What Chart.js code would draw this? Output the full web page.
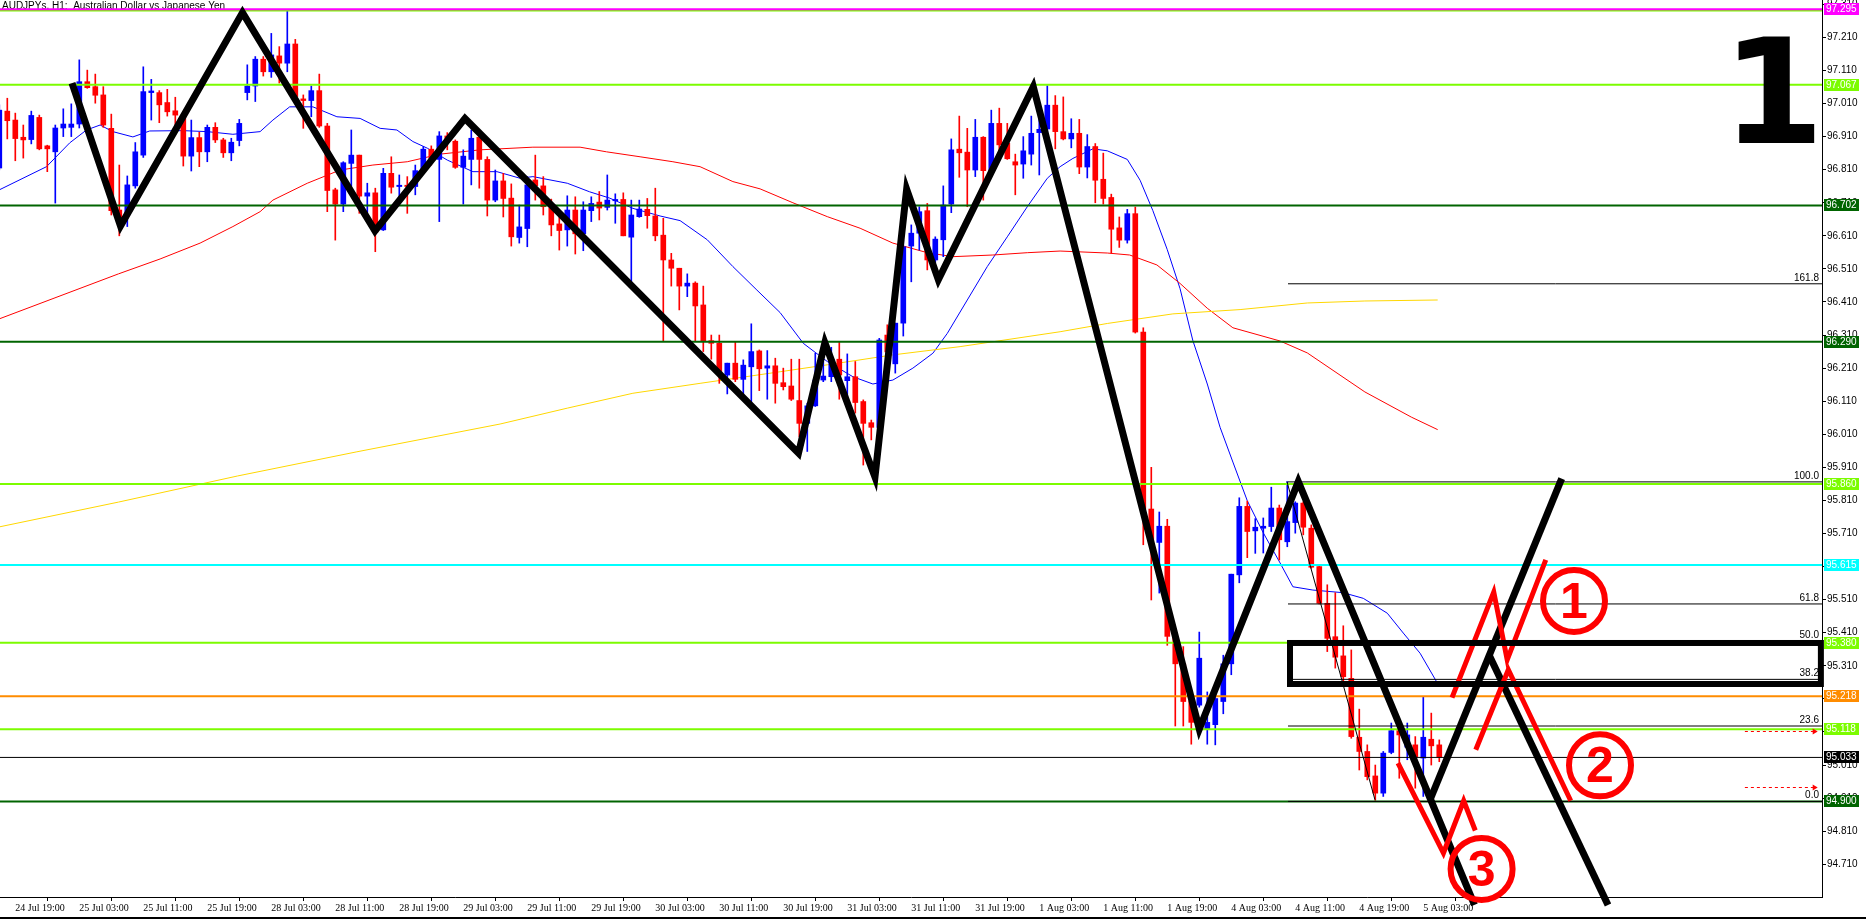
<!DOCTYPE html>
<html>
<head>
<meta charset="utf-8">
<script src="https://cdn.jsdelivr.net/npm/chart.js@4.4.1/dist/chart.umd.min.js"></script>
<style>
html, body { margin: 0; padding: 0; background: #fff; overflow: hidden; }
#wrap { position: relative; width: 1866px; height: 919px; }
</style>
</head>
<body>
<div id="wrap"><canvas id="chart" width="1866" height="919"></canvas></div>
<script>
// AUDJPYs H1 candles, 24 Jul 17:00 .. 5 Aug 05:00 (index = bar number)
const opens = [
  96.815, 96.987, 96.960, 96.908, 96.901, 96.968, 96.882, 96.864, 96.936, 96.938,
  96.948, 97.076, 97.061, 97.036, 96.935, 96.688, 96.673, 96.761, 96.854, 97.043,
  97.043, 97.013, 96.988, 96.975, 96.851, 96.907, 96.864, 96.938, 96.900, 96.861,
  96.898, 97.043, 97.063, 97.144, 97.106, 97.154, 97.132, 97.190, 97.024, 97.019,
  97.049, 96.942, 96.749, 96.706, 96.829, 96.854, 96.730, 96.740, 96.628, 96.799,
  96.759, 96.763, 96.759, 96.807, 96.872, 96.841, 96.912, 96.896, 96.817, 96.841,
  96.908, 96.841, 96.718, 96.776, 96.724, 96.605, 96.632, 96.779, 96.761, 96.700,
  96.646, 96.628, 96.688, 96.616, 96.686, 96.712, 96.696, 96.716, 96.720, 96.606,
  96.668, 96.690, 96.670, 96.612, 96.537, 96.512, 96.458, 96.467, 96.401, 96.293,
  96.285, 96.189, 96.225, 96.176, 96.214, 96.262, 96.210, 96.217, 96.166, 96.156,
  96.112, 96.043, 96.096, 96.174, 96.184, 96.237, 96.172, 96.184, 96.109, 96.045,
  96.031, 96.310, 96.223, 96.346, 96.579, 96.618, 96.686, 96.537, 96.598, 96.706,
  96.872, 96.863, 96.809, 96.908, 96.807, 96.950, 96.890, 96.834, 96.827, 96.857,
  96.922, 96.933, 97.005, 96.925, 96.903, 96.920, 96.818, 96.880, 96.781, 96.726,
  96.634, 96.597, 96.677, 96.319, 95.784, 95.683, 95.732, 95.399, 95.316, 95.204,
  95.191, 95.119, 95.132, 95.202, 95.316, 95.585, 95.792, 95.718, 95.726, 95.731,
  95.787, 95.685, 95.743, 95.802, 95.726, 95.610, 95.499, 95.398, 95.340, 95.272,
  95.094, 95.051, 94.977, 94.925, 95.048, 95.114, 95.064, 95.071, 95.031, 95.088,
  95.071
];
const highs = [
  97.006, 97.026, 96.981, 96.945, 96.987, 96.975, 96.884, 96.945, 96.994, 97.009,
  97.142, 97.111, 97.099, 97.061, 96.978, 96.824, 96.791, 96.892, 97.121, 97.083,
  97.049, 97.053, 97.029, 96.975, 96.960, 96.923, 96.945, 96.952, 96.905, 96.905,
  96.962, 97.127, 97.152, 97.152, 97.222, 97.182, 97.291, 97.204, 97.036, 97.063,
  97.099, 96.950, 96.754, 96.834, 96.930, 96.854, 96.769, 96.754, 96.814, 96.849,
  96.794, 96.789, 96.824, 96.880, 96.882, 96.925, 96.922, 96.900, 96.870, 96.930,
  96.915, 96.849, 96.809, 96.799, 96.767, 96.703, 96.789, 96.854, 96.789, 96.721,
  96.666, 96.731, 96.728, 96.713, 96.728, 96.744, 96.794, 96.737, 96.740, 96.718,
  96.718, 96.723, 96.754, 96.663, 96.557, 96.512, 96.495, 96.471, 96.458, 96.310,
  96.310, 96.225, 96.290, 96.235, 96.344, 96.265, 96.263, 96.240, 96.210, 96.237,
  96.237, 96.104, 96.255, 96.255, 96.273, 96.290, 96.253, 96.230, 96.114, 96.053,
  96.300, 96.341, 96.346, 96.597, 96.643, 96.698, 96.708, 96.607, 96.761, 96.903,
  96.972, 96.935, 96.962, 96.910, 96.990, 96.996, 96.950, 96.857, 96.910, 96.972,
  97.011, 97.064, 97.034, 97.030, 96.964, 96.962, 96.916, 96.889, 96.860, 96.736,
  96.667, 96.690, 96.697, 96.332, 95.910, 95.775, 95.753, 95.399, 95.368, 95.218,
  95.412, 95.231, 95.231, 95.342, 95.587, 95.818, 95.808, 95.755, 95.757, 95.850,
  95.796, 95.867, 95.806, 95.806, 95.736, 95.615, 95.555, 95.531, 95.431, 95.358,
  95.179, 95.071, 95.010, 95.051, 95.137, 95.137, 95.137, 95.096, 95.217, 95.167,
  95.086
];
const lows = [
  96.809, 96.903, 96.837, 96.845, 96.888, 96.870, 96.804, 96.709, 96.910, 96.910,
  96.936, 97.056, 97.011, 96.938, 96.673, 96.610, 96.638, 96.754, 96.847, 96.960,
  96.952, 96.972, 96.940, 96.821, 96.806, 96.819, 96.834, 96.892, 96.847, 96.837,
  96.882, 97.021, 97.016, 97.093, 97.089, 97.072, 97.106, 97.021, 96.935, 96.970,
  96.938, 96.683, 96.597, 96.683, 96.759, 96.678, 96.678, 96.562, 96.626, 96.739,
  96.713, 96.678, 96.734, 96.804, 96.824, 96.653, 96.870, 96.814, 96.706, 96.764,
  96.754, 96.670, 96.713, 96.667, 96.579, 96.588, 96.577, 96.718, 96.673, 96.610,
  96.567, 96.579, 96.555, 96.565, 96.653, 96.658, 96.688, 96.648, 96.610, 96.471,
  96.666, 96.633, 96.595, 96.293, 96.458, 96.386, 96.426, 96.293, 96.260, 96.237,
  96.164, 96.132, 96.169, 96.112, 96.106, 96.142, 96.116, 96.104, 96.144, 96.112,
  96.003, 95.958, 96.094, 96.169, 96.169, 96.116, 96.116, 96.074, 95.917, 95.993,
  96.028, 96.235, 96.195, 96.307, 96.471, 96.567, 96.507, 96.529, 96.547, 96.680,
  96.787, 96.698, 96.789, 96.718, 96.797, 96.860, 96.841, 96.734, 96.784, 96.824,
  96.794, 96.922, 96.873, 96.900, 96.876, 96.798, 96.785, 96.710, 96.706, 96.558,
  96.575, 96.588, 96.316, 95.676, 95.509, 95.530, 95.372, 95.128, 95.128, 95.073,
  95.185, 95.073, 95.071, 95.165, 95.283, 95.561, 95.637, 95.650, 95.651, 95.716,
  95.630, 95.670, 95.711, 95.706, 95.605, 95.497, 95.353, 95.303, 95.257, 95.091,
  94.995, 94.965, 94.903, 94.915, 95.044, 94.970, 95.026, 94.940, 94.915, 95.010,
  95.020
];
const closes = [
  96.990, 96.958, 96.904, 96.900, 96.974, 96.873, 96.873, 96.936, 96.948, 96.948,
  97.076, 97.058, 97.035, 96.945, 96.686, 96.658, 96.764, 96.864, 97.046, 97.048,
  97.006, 96.985, 96.975, 96.851, 96.907, 96.864, 96.938, 96.900, 96.861, 96.893,
  96.950, 97.063, 97.144, 97.106, 97.157, 97.132, 97.190, 97.031, 97.019, 97.049,
  96.942, 96.747, 96.706, 96.831, 96.854, 96.730, 96.740, 96.620, 96.799, 96.757,
  96.763, 96.759, 96.807, 96.872, 96.844, 96.912, 96.900, 96.817, 96.851, 96.905,
  96.841, 96.718, 96.776, 96.723, 96.607, 96.637, 96.764, 96.761, 96.698, 96.643,
  96.626, 96.688, 96.616, 96.688, 96.708, 96.694, 96.718, 96.720, 96.610, 96.673,
  96.691, 96.671, 96.610, 96.537, 96.512, 96.458, 96.467, 96.398, 96.293, 96.285,
  96.196, 96.225, 96.176, 96.219, 96.260, 96.208, 96.217, 96.164, 96.154, 96.116,
  96.043, 96.096, 96.174, 96.186, 96.230, 96.189, 96.184, 96.106, 96.043, 96.031,
  96.295, 96.259, 96.346, 96.577, 96.618, 96.683, 96.537, 96.600, 96.703, 96.870,
  96.861, 96.809, 96.908, 96.807, 96.950, 96.885, 96.843, 96.824, 96.867, 96.920,
  96.932, 97.005, 96.925, 96.903, 96.920, 96.818, 96.880, 96.778, 96.723, 96.630,
  96.597, 96.677, 96.319, 95.784, 95.683, 95.732, 95.399, 95.316, 95.202, 95.139,
  95.333, 95.139, 95.211, 95.316, 95.587, 95.792, 95.716, 95.729, 95.732, 95.787,
  95.691, 95.746, 95.802, 95.729, 95.608, 95.499, 95.393, 95.336, 95.277, 95.096,
  95.051, 94.975, 94.925, 95.046, 95.114, 95.101, 95.101, 95.035, 95.094, 95.068,
  95.034
];

// moving averages: [bar index, price]
const maFast = [
  [0, 96.749], [5.9, 96.819], [8.8, 96.891], [10.9, 96.930], [12.6, 96.945], [14.2, 96.925],
  [16.7, 96.909], [18.8, 96.927], [23, 96.928], [26, 96.925], [29.2, 96.917], [32.6, 96.925],
  [34.2, 96.960], [36.3, 97.000], [39.2, 97.000], [42.2, 96.970], [45.1, 96.965], [47.6, 96.935],
  [49.7, 96.930], [51.7, 96.895], [53.5, 96.875], [56, 96.839], [59.2, 96.804], [62.2, 96.804],
  [65.1, 96.784], [66.7, 96.789], [71, 96.769], [73.8, 96.743], [76.3, 96.724], [79.2, 96.693],
  [82.6, 96.670], [85.1, 96.656], [88.5, 96.598], [91.7, 96.517], [94.7, 96.446], [97.6, 96.378],
  [100.5, 96.285], [103.5, 96.230], [106.7, 96.184], [109.2, 96.162], [111.7, 96.174], [114.2, 96.210],
  [116.7, 96.255], [118.5, 96.315], [121, 96.416], [123.5, 96.517], [126, 96.607], [128.5, 96.698],
  [131, 96.784], [132.6, 96.819], [134.2, 96.844], [136.7, 96.873], [138.5, 96.867], [141, 96.841],
  [142.6, 96.778], [144.2, 96.686], [146, 96.568], [147.6, 96.450], [149.2, 96.293], [151, 96.162],
  [152.6, 96.031], [154.2, 95.926], [156, 95.809], [158, 95.712], [160.1, 95.621], [161.7, 95.549],
  [164.2, 95.539], [168, 95.531], [170.5, 95.514], [173.5, 95.469], [175.5, 95.409], [177.6, 95.348],
  [179.9, 95.252]
];
const maMid = [
  [0, 96.359], [14.9, 96.495], [20.1, 96.540], [25.1, 96.588], [29.2, 96.638], [32.6, 96.683],
  [34.2, 96.718], [38.5, 96.769], [42.6, 96.809], [46.7, 96.824], [51, 96.834], [55.1, 96.857],
  [60.1, 96.870], [66.7, 96.878], [72.6, 96.878], [75.9, 96.864], [80.1, 96.849], [84.2, 96.834],
  [87.6, 96.819], [91.7, 96.774], [95.1, 96.752], [99.2, 96.710], [103.5, 96.668], [107.6, 96.633],
  [111.7, 96.588], [116, 96.559], [119.2, 96.547], [124.2, 96.552], [128.5, 96.559], [132.6, 96.564],
  [138.5, 96.558], [141.3, 96.552], [144.7, 96.522], [147.6, 96.466], [151, 96.391], [154.2, 96.332],
  [160.1, 96.292], [163.5, 96.256], [170.7, 96.138], [176.5, 96.062], [179.8, 96.024]
];
const maSlow = [
  [0, 95.730], [14.9, 95.805], [29.8, 95.884], [44.7, 95.957], [62.6, 96.041], [71, 96.089],
  [79.2, 96.134], [87.6, 96.164], [97.6, 96.199], [103.5, 96.220], [111.7, 96.250], [120.1, 96.275],
  [132.6, 96.320], [138.5, 96.345], [146.7, 96.374], [155.1, 96.387], [163.5, 96.407], [170.7, 96.413],
  [179.8, 96.416]
];

// hand-drawn wave lines: [bar index, price]
const waveMain = [
  [9.09, 97.072], [15.15, 96.640], [30.4, 97.285], [46.96, 96.625], [58.21, 96.965],
  [99.9, 95.953], [103.2, 96.287], [109.46, 95.881], [113.42, 96.751], [117.38, 96.477],
  [129.25, 97.061], [150.0, 95.119], [162.375, 95.867], [184.4, 94.587]
];
const waveUp = [[178.9, 94.908], [195.3, 95.876]];
const waveDown = [[186.3, 95.339], [201.09, 94.587]];
const redPath1 = [[181.59, 95.214], [186.81, 95.533], [188.49, 95.328], [193.31, 95.630]];
const redPath2 = [[184.56, 95.056], [188.63, 95.298], [196.43, 94.902]];
const redPath3 = [[174.84, 95.016], [180.52, 94.744], [183.05, 94.902], [184.5, 94.812]];
const circleMarks = [['1', 196.84, 95.506], ['2', 200.09, 95.009], ['3', 185.29, 94.696]];
const zoneBox = [[161.34, 95.379], [227.7, 95.255]];

// horizontal levels
const levelPrices = [97.295, 97.291, 97.067, 96.702, 96.290, 95.860, 95.615, 95.380, 95.218, 95.118, 95.033, 94.900];
const levelColors = ['#ff00ff', '#7cfc00', '#7cfc00', '#006400', '#006400', '#7cfc00', '#00ffff', '#7cfc00', '#ff8c00', '#7cfc00', '#000000', '#006400'];
const levelWidths = [2, 2, 2, 2, 2, 2, 2, 2, 2, 2, 1, 2];
const levelTags = ['97.295', '', '97.067', '96.702', '96.290', '95.860', '95.615', '95.380', '95.218', '95.118', '95.033', '94.900'];

// fibonacci retracement
const fibStart = 161.09;
const fibNames = ['0.0', '23.6', '38.2', '50.0', '61.8', '100.0', '161.8'];
const fibPrices = [94.900, 95.128, 95.269, 95.383, 95.497, 95.866, 96.465];
const fibBase = [[160.96, 95.867], [171.96, 94.905]];
const arrowPrices = [95.114, 94.944];
const arrowSpan = [218.2, 227.3];

// axes
const yTicks = [94.71, 94.81, 94.91, 95.01, 95.11, 95.21, 95.31, 95.41, 95.51, 95.61, 95.71, 95.81, 95.91,
  96.01, 96.11, 96.21, 96.31, 96.41, 96.51, 96.61, 96.71, 96.81, 96.91, 97.01, 97.11, 97.21, 97.31];
const xTickBars = [2, 10, 18, 26, 34, 42, 50, 58, 66, 74, 82, 90, 98, 106, 114, 122, 130, 138, 146, 154, 162, 170, 178];
const xTickLabels = ['24 Jul 19:00', '25 Jul 03:00', '25 Jul 11:00', '25 Jul 19:00', '28 Jul 03:00', '28 Jul 11:00',
  '28 Jul 19:00', '29 Jul 03:00', '29 Jul 11:00', '29 Jul 19:00', '30 Jul 03:00', '30 Jul 11:00', '30 Jul 19:00',
  '31 Jul 03:00', '31 Jul 11:00', '31 Jul 19:00', '1 Aug 03:00', '1 Aug 11:00', '1 Aug 19:00', '4 Aug 03:00',
  '4 Aug 11:00', '4 Aug 19:00', '5 Aug 03:00'];

const X_MIN = 0.0875, X_MAX = 227.84, Y_MIN = 94.611, Y_MAX = 97.323;

const pts = arr => arr.map(p => ({ x: p[0], y: p[1] }));
const candleColors = opens.map((o, i) => closes[i] >= o ? '#0000ff' : '#ff0000');

function lineSet(data, color, width, order, extra) {
  return Object.assign({
    type: 'line', data: data, borderColor: color, borderWidth: width,
    pointRadius: 0, fill: false, tension: 0, order: order
  }, extra || {});
}

const datasets = [];
datasets.push(lineSet(pts(maSlow), '#ffd700', 1, 60));
datasets.push(lineSet(pts(maMid), '#ff0000', 1, 60));
datasets.push(lineSet(pts(maFast), '#0000ff', 1, 60));
datasets.push({
  type: 'bar', data: opens.map((o, i) => ({ x: i, y: [lows[i], highs[i]] })),
  backgroundColor: candleColors, barThickness: 1, grouped: false, minBarLength: 1, order: 51
});
datasets.push({
  type: 'bar', data: opens.map((o, i) => ({ x: i, y: [o, closes[i]] })),
  backgroundColor: candleColors, barThickness: 5, grouped: false, minBarLength: 1, order: 50
});
levelPrices.forEach((p, k) => {
  datasets.push(lineSet([{ x: -5, y: p }, { x: 240, y: p }], levelColors[k], levelWidths[k], 40));
});
fibPrices.forEach(p => {
  datasets.push(lineSet([{ x: fibStart, y: p }, { x: 240, y: p }], '#000000', 1, 35));
});
datasets.push(lineSet(pts(fibBase), '#000000', 1, 35));
const clipLow = { left: 0, top: 0, right: 0, bottom: 10 };
datasets.push(lineSet(pts(waveMain), '#000000', 7, 10, { clip: clipLow }));
datasets.push(lineSet(pts(waveUp), '#000000', 7, 10, { clip: clipLow }));
datasets.push(lineSet(pts(waveDown), '#000000', 7, 10, { clip: clipLow }));
[redPath1, redPath2, redPath3].forEach(r => {
  datasets.push(lineSet(pts(r), '#ff0000', 5, 5, { clip: clipLow }));
});

const overlay = {
  id: 'overlay',
  beforeDatasetsDraw(chart) {
    const ctx = chart.ctx;
    ctx.save();
    ctx.fillStyle = '#000';
    ctx.font = '10px "Liberation Sans"';
    ctx.textBaseline = 'top';
    ctx.textAlign = 'left';
    ctx.fillText('AUDJPYs, H1:  Australian Dollar vs Japanese Yen', 2, 1);
    ctx.restore();
  },
  afterDatasetsDraw(chart) {
    const ctx = chart.ctx, xs = chart.scales.x, ys = chart.scales.y;
    const area = chart.chartArea;
    ctx.save();
    // zone rectangle
    const x1 = xs.getPixelForValue(zoneBox[0][0]), y1 = ys.getPixelForValue(zoneBox[0][1]);
    const x2 = xs.getPixelForValue(zoneBox[1][0]), y2 = ys.getPixelForValue(zoneBox[1][1]);
    ctx.strokeStyle = '#000';
    ctx.lineWidth = 6;
    ctx.strokeRect(x1, y1, x2 - x1, y2 - y1);
    // fibo labels
    ctx.font = '10px "Liberation Sans"';
    ctx.fillStyle = '#000';
    ctx.textAlign = 'right';
    ctx.textBaseline = 'bottom';
    fibPrices.forEach((p, k) => {
      ctx.fillText(fibNames[k], area.right - 3, ys.getPixelForValue(p) - 1);
    });
    // dashed red arrows
    ctx.strokeStyle = '#ff0000';
    ctx.fillStyle = '#ff0000';
    ctx.lineWidth = 1;
    arrowPrices.forEach(p => {
      const y = Math.round(ys.getPixelForValue(p)) + 0.5;
      const xa = xs.getPixelForValue(arrowSpan[0]), xb = xs.getPixelForValue(arrowSpan[1]);
      ctx.setLineDash([3, 3]);
      ctx.beginPath(); ctx.moveTo(xa, y); ctx.lineTo(xb - 4, y); ctx.stroke();
      ctx.setLineDash([]);
      ctx.beginPath(); ctx.moveTo(xb, y); ctx.lineTo(xb - 5, y - 3); ctx.lineTo(xb - 5, y + 3); ctx.closePath(); ctx.fill();
    });
    // circled numbers
    circleMarks.forEach(m => {
      const cx = xs.getPixelForValue(m[1]), cy = ys.getPixelForValue(m[2]);
      ctx.strokeStyle = '#ff0000';
      ctx.lineWidth = 6;
      ctx.beginPath(); ctx.arc(cx, cy, 31, 0, Math.PI * 2); ctx.stroke();
      ctx.fillStyle = '#ff0000';
      ctx.font = 'bold 50px "Liberation Sans"';
      ctx.textAlign = 'center';
      ctx.textBaseline = 'middle';
      ctx.fillText(m[0], cx, cy + 3);
    });
    ctx.restore();
  },
  afterDraw(chart) {
    const ctx = chart.ctx, ys = chart.scales.y, area = chart.chartArea;
    ctx.save();
    // price tags on the right axis
    ctx.font = '10px "Liberation Sans"';
    ctx.textBaseline = 'middle';
    ctx.textAlign = 'left';
    levelPrices.forEach((p, k) => {
      if (!levelTags[k]) return;
      const y = Math.round(ys.getPixelForValue(p));
      ctx.fillStyle = levelColors[k];
      ctx.fillRect(area.right + 2, y - 6, 35, 12);
      ctx.fillStyle = '#ffffff';
      ctx.fillText(levelTags[k], area.right + 4, y + 0.5);
    });
    // big wave label
    ctx.fillStyle = '#000';
    ctx.font = 'bold 147px "DejaVu Sans"';
    ctx.textAlign = 'left';
    ctx.textBaseline = 'alphabetic';
    const m = ctx.measureText('1');
    ctx.fillText('1', 1815 - m.actualBoundingBoxRight, 143);
    // bottom frame
    ctx.fillRect(0, 917, 1866, 2);
    ctx.restore();
  }
};

new Chart(document.getElementById('chart'), {
  type: 'bar',
  data: { datasets: datasets },
  options: {
    responsive: false,
    animation: false,
    devicePixelRatio: 1,
    layout: { padding: 0 },
    plugins: { legend: { display: false }, tooltip: { enabled: false } },
    scales: {
      x: {
        type: 'linear', min: X_MIN, max: X_MAX, offset: false,
        grid: { drawOnChartArea: false, drawTicks: true, tickLength: 4, color: '#000' },
        border: { display: true, color: '#000', width: 1 },
        ticks: {
          autoSkip: false, maxRotation: 0, minRotation: 0, align: 'start', padding: 1,
          color: '#000', font: { family: 'Liberation Sans Narrow', size: 10 },
          callback: (v, i) => xTickLabels[i]
        },
        afterBuildTicks: s => { s.ticks = xTickBars.map(v => ({ value: v })); },
        afterFit: s => { s.height = 22; s.paddingLeft = 0; s.paddingRight = 0; }
      },
      y: {
        type: 'linear', position: 'right', min: Y_MIN, max: Y_MAX,
        grid: { drawOnChartArea: false, drawTicks: true, tickLength: 4, color: '#000' },
        border: { display: true, color: '#000', width: 1 },
        ticks: {
          padding: 1, color: '#000', font: { family: 'Liberation Sans', size: 10 },
          callback: v => v.toFixed(3)
        },
        afterBuildTicks: s => { s.ticks = yTicks.map(v => ({ value: v })); },
        afterFit: s => { s.width = 44; s.paddingTop = 0; s.paddingBottom = 0; }
      }
    }
  },
  plugins: [overlay]
});
</script>
</body>
</html>
